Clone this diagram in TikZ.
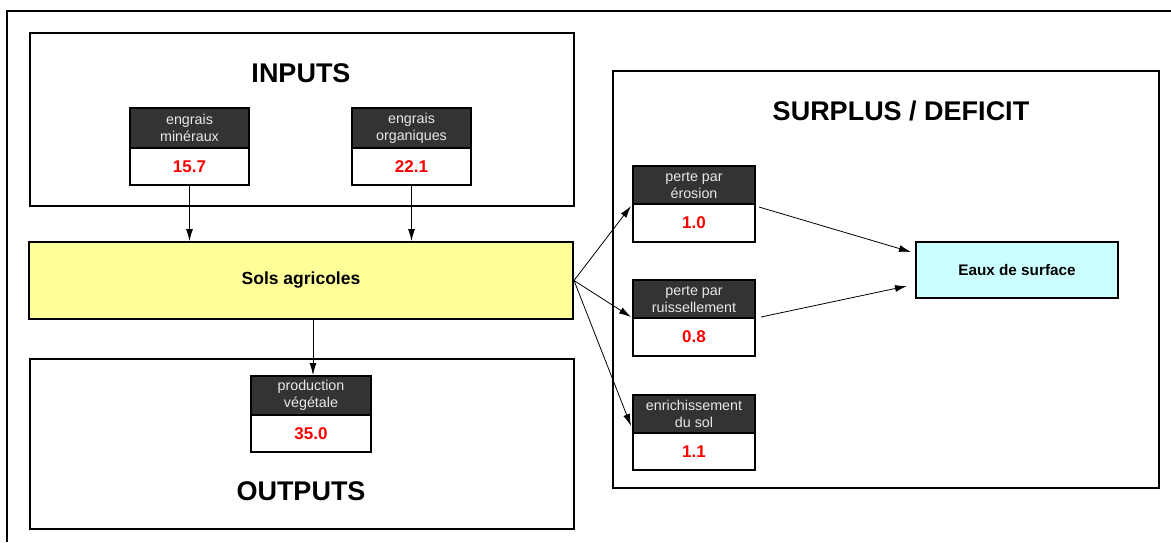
\documentclass[tikz,border=0pt]{standalone}
\usepackage{fontspec}
\setmainfont{Liberation Sans}
\usetikzlibrary{arrows.meta,calc}
\definecolor{hdr}{HTML}{333333}
\definecolor{hdrtxt}{HTML}{E8E8E8}
\definecolor{soil}{HTML}{FFFF99}
\definecolor{water}{HTML}{CCFFFF}
\definecolor{valred}{HTML}{FF0000}
\tikzset{
  frame/.style={draw=black, line width=2pt},
  bigbox/.style={draw=black, line width=2pt, fill=white, inner sep=0pt, anchor=north west},
  hdrbox/.style={draw=black, line width=2pt, fill=hdr, text=hdrtxt, inner sep=0pt, align=center,
     font=\fontsize{14.3}{17}\selectfont},
  valbox/.style={draw=black, line width=2pt, fill=white, text=valred, inner sep=0pt,
     font=\fontsize{17}{20}\selectfont\bfseries},
  bigtitle/.style={font=\fontsize{27}{32}\selectfont\bfseries, inner sep=0pt},
  arr/.style={draw=black, line width=0.8pt, -{Latex[length=12pt,width=7pt]}},
}
\begin{document}
\begin{tikzpicture}[x=1pt,y=-1pt]
\useasboundingbox (0,0) rectangle (1171,542);
\draw[frame] (7,542) -- (7,11) -- (1171,11);

% big containers
\node[bigbox, minimum width=544pt, minimum height=173pt] (inputs) at (29,32) {};
\node[bigtitle] (inputst) at (301,73) {INPUTS};
\node[bigbox, minimum width=544pt, minimum height=170pt] (outputs) at (29,358) {};
\node[bigtitle] (outputst) at (301,491) {OUTPUTS};
\node[bigbox, minimum width=546pt, minimum height=417pt] (surplus) at (612,70) {};
\node[bigtitle] (surplust) at (901,111) {SURPLUS / DEFICIT};

% soil
\node[draw=black, line width=2pt, fill=soil, minimum width=544pt, minimum height=77pt, inner sep=0pt,
      font=\fontsize{17.5}{21}\selectfont\bfseries] (sols) at (301,280.5) {Sols agricoles};

% water
\node[draw=black, line width=2pt, fill=water, minimum width=202pt, minimum height=56pt, inner sep=0pt,
      font=\fontsize{15.3}{18}\selectfont\bfseries] (eaux) at (1017,270) {Eaux de surface};

% inputs
\node[hdrbox, minimum width=119pt, minimum height=40pt] (minh) at (189.5,128) {engrais\\minéraux};
\node[valbox, minimum width=119pt, minimum height=37pt] (minv) at (189.5,166.5) {15.7};
\node[hdrbox, minimum width=119pt, minimum height=40pt] (orgh) at (411.5,128) {engrais\\organiques};
\node[valbox, minimum width=119pt, minimum height=37pt] (orgv) at (411.5,166.5) {22.1};

% outputs
\node[hdrbox, minimum width=120pt, minimum height=39pt] (prodh) at (311,395.5) {production\\végétale};
\node[valbox, minimum width=120pt, minimum height=37pt] (prodv) at (311,433.5) {35.0};

% surplus
\node[hdrbox, minimum width=122pt, minimum height=38pt] (eroh) at (694,185) {perte par\\érosion};
\node[valbox, minimum width=122pt, minimum height=38pt] (erov) at (694,223) {1.0};
\node[hdrbox, minimum width=122pt, minimum height=38pt] (ruih) at (694,299) {perte par\\ruissellement};
\node[valbox, minimum width=122pt, minimum height=38pt] (ruiv) at (694,337) {0.8};
\node[hdrbox, minimum width=122pt, minimum height=38pt] (enrh) at (694,414) {enrichissement\\du sol};
\node[valbox, minimum width=122pt, minimum height=37pt] (enrv) at (694,451.5) {1.1};

% arrows
\draw[arr] (minv.south) -- (minv.south |- sols.north);
\draw[arr] (orgv.south) -- (orgv.south |- sols.north);
\draw[arr] ($(prodh.north |- sols.south)+(2,0)$) -- ($(prodh.north)+(2,0)$);
\draw[arr] (sols.east) -- ($(erov.north west)+(-1,3)$);
\draw[arr] (sols.east) -- ($(ruiv.north west)+(-1,0)$);
\draw[arr] (sols.east) -- ($(enrh.south west)+(-1,-8)$);
\draw[arr] ($(erov.north east)+(3,4)$) -- ($(eaux.north west)+(-4,11)$);
\draw[arr] ($(ruih.south east)+(5,-2)$) -- ($(eaux.south west)+(-8,-13)$);
\end{tikzpicture}
\end{document}
